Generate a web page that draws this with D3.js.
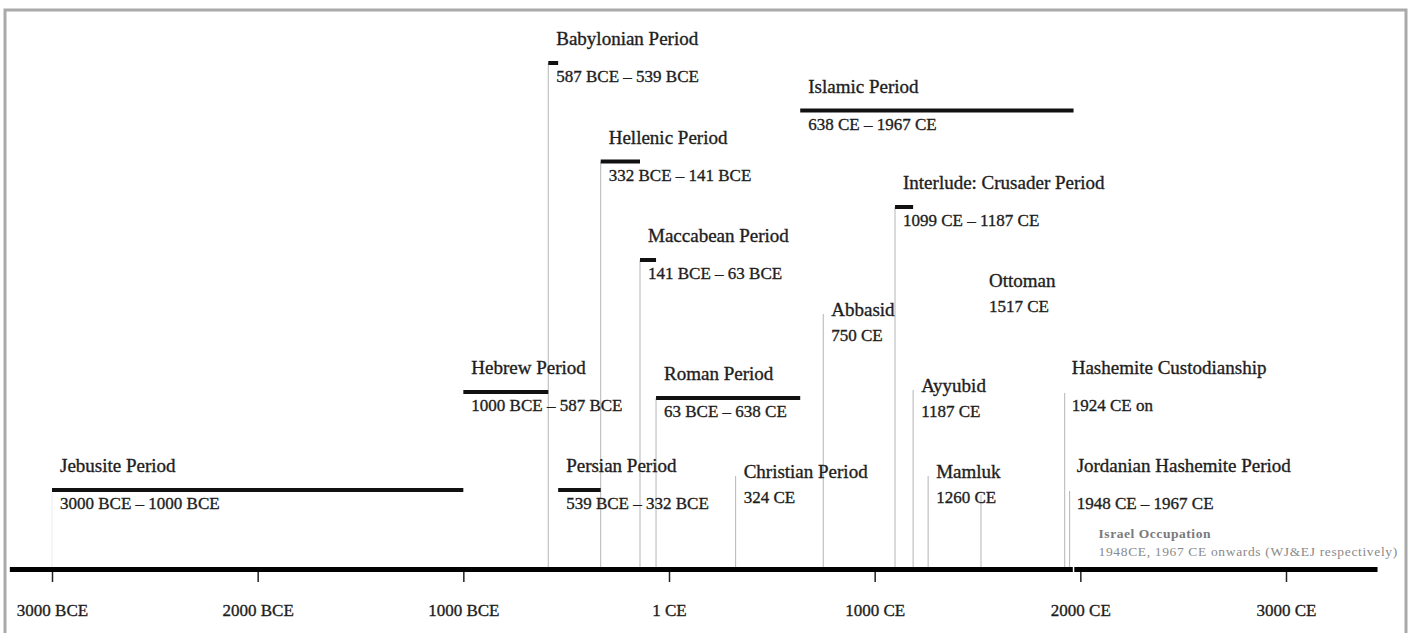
<!DOCTYPE html>
<html>
<head>
<meta charset="utf-8">
<script src="https://cdn.jsdelivr.net/npm/d3@7"></script>
<style>
  body { margin: 0; background: #fff; }
  text { font-family: "Liberation Serif", "Times New Roman", serif; fill: #1e1e1e; }
  .name, .range, .tick text { stroke: #1e1e1e; stroke-width: 0.35px; }
  .name { font-size: 19px; }
  .range { font-size: 17px; }
  .tick text { font-size: 17px; fill: #1e1e1e; }
  .note-title { font-size: 13.5px; font-weight: bold; fill: #7a7a7a; letter-spacing: 0.55px; }
  .note-text { font-size: 13.5px; fill: #8a8a8a; letter-spacing: 0.65px; }
</style>
</head>
<body>
<div class="svg-container"></div>
<script>
var width = 1412;
var height = 633;

// periods drawn with a bar (years: negative = BCE)
var periodNames = ["Jebusite Period", "Hebrew Period", "Babylonian Period", "Persian Period",
                   "Hellenic Period", "Maccabean Period", "Roman Period", "Islamic Period",
                   "Interlude: Crusader Period"];
var periodStarts = [-3000, -1000, -587, -539, -332, -141, -63, 638, 1099];
var periodEnds   = [-1000, -587, -539, -332, -141, -63, 638, 1967, 1187];
var periodLabels = ["3000 BCE \u2013 1000 BCE", "1000 BCE \u2013 587 BCE", "587 BCE \u2013 539 BCE",
                    "539 BCE \u2013 332 BCE", "332 BCE \u2013 141 BCE", "141 BCE \u2013 63 BCE",
                    "63 BCE \u2013 638 CE", "638 CE \u2013 1967 CE", "1099 CE \u2013 1187 CE"];
var periodLanes  = [10, 7, 0, 10, 2, 4, 8, 1, 3];
var droppedPeriods = ["Babylonian Period", "Hellenic Period", "Maccabean Period",
                      "Roman Period", "Interlude: Crusader Period"];

// open-ended eras (no bar)
var eraNames  = ["Hashemite Custodianship", "Jordanian Hashemite Period"];
var eraYears  = [1924, 1948];
var eraLabels = ["1924 CE on", "1948 CE \u2013 1967 CE"];
var eraLanes  = [7, 10];

// single-year events
var eventNames  = ["Christian Period", "Abbasid", "Ayyubid", "Mamluk", "Ottoman"];
var eventYears  = [324, 750, 1187, 1260, 1517];
var eventLabels = ["324 CE", "750 CE", "1187 CE", "1260 CE", "1517 CE"];
var eventLanes  = [9, 6, 7, 9, 5];
var eventLineLanes = [9, 6, 7, 9, 11];

// note on the right
var noteYear  = 1967;
var noteTitle = "Israel Occupation";
var noteText  = "1948CE, 1967 CE onwards (WJ&EJ respectively)";

// axis
var tickYears  = [-3000, -2000, -1000, 0, 1000, 2000, 3000];
var tickLabels = ["3000 BCE", "2000 BCE", "1000 BCE", "1 CE", "1000 CE", "2000 CE", "3000 CE"];
var axisSpan   = [-3205, 3445];

// layout: y position of each lane
var laneY = [63, 110.5, 161.5, 207, 260, 287, 316, 392, 398, 478, 490, 497];
var axisY = 569.5;

var svg = d3.select(".svg-container")
            .append("svg")
            .attr("width", width)
            .attr("height", height);

// frame
svg.append("rect")
   .attr("x", 5).attr("y", 10)
   .attr("width", 1401).attr("height", 700)
   .attr("fill", "none")
   .attr("stroke", "#aaa")
   .attr("stroke-width", 3);

var scaleX = d3.scaleLinear()
               .domain([-3000, 3000])
               .range([52, 1286]);

var lane = function(i) { return laneY[i]; };

var periods = periodNames.map(function(n, i) {
  return { name: n, start: periodStarts[i], end: periodEnds[i], label: periodLabels[i], lane: periodLanes[i] };
});
var eras = eraNames.map(function(n, i) {
  return { name: n, year: eraYears[i], label: eraLabels[i], lane: eraLanes[i] };
});
var events = eventNames.map(function(n, i) {
  return { name: n, year: eventYears[i], label: eventLabels[i], lane: eventLanes[i], lineLane: eventLineLanes[i] };
});

var drops = svg.append("g").attr("class", "drops");

// drop lines
drops.selectAll(".pdrop")
     .data(periods.filter(function(d) { return droppedPeriods.indexOf(d.name) >= 0; }))
     .enter().append("line")
     .attr("x1", function(d) { return scaleX(d.start); })
     .attr("x2", function(d) { return scaleX(d.start); })
     .attr("y1", function(d) { return lane(d.lane); })
     .attr("y2", axisY)
     .attr("stroke", "#b5b5b5")
     .attr("stroke-width", 1);

// faint line under the first period
drops.append("line")
     .attr("x1", scaleX(periods[0].start)).attr("x2", scaleX(periods[0].start))
     .attr("y1", lane(periods[0].lane)).attr("y2", axisY)
     .attr("stroke", "#ececec")
     .attr("stroke-width", 1);

drops.selectAll(".edrop")
     .data(eras)
     .enter().append("line")
     .attr("x1", function(d) { return scaleX(d.year); })
     .attr("x2", function(d) { return scaleX(d.year); })
     .attr("y1", function(d) { return lane(d.lane) + 1; })
     .attr("y2", axisY)
     .attr("stroke", "#b5b5b5")
     .attr("stroke-width", 1);

drops.selectAll(".vdrop")
     .data(events)
     .enter().append("line")
     .attr("x1", function(d) { return scaleX(d.year); })
     .attr("x2", function(d) { return scaleX(d.year); })
     .attr("y1", function(d) { return lane(d.lineLane) - 2; })
     .attr("y2", axisY)
     .attr("stroke", "#b5b5b5")
     .attr("stroke-width", 1);

// period bars and labels
var pg = svg.append("g").selectAll("g")
            .data(periods)
            .enter().append("g");

pg.append("line")
  .attr("x1", function(d) { return scaleX(d.start); })
  .attr("x2", function(d) { return scaleX(d.end); })
  .attr("y1", function(d) { return lane(d.lane); })
  .attr("y2", function(d) { return lane(d.lane); })
  .attr("stroke", "#111")
  .attr("stroke-width", 4);

pg.append("text")
  .attr("class", "name")
  .attr("x", function(d) { return scaleX(d.start) + 8; })
  .attr("y", function(d) { return lane(d.lane) - 18; })
  .text(function(d) { return d.name; });

pg.append("text")
  .attr("class", "range")
  .attr("x", function(d) { return scaleX(d.start) + 8; })
  .attr("y", function(d) { return lane(d.lane) + 19; })
  .text(function(d) { return d.label; });

// eras
var eg = svg.append("g").selectAll("g")
            .data(eras)
            .enter().append("g");

eg.append("text")
  .attr("class", "name")
  .attr("x", function(d) { return scaleX(d.year) + 7; })
  .attr("y", function(d) { return lane(d.lane) - 18; })
  .text(function(d) { return d.name; });

eg.append("text")
  .attr("class", "range")
  .attr("x", function(d) { return scaleX(d.year) + 7; })
  .attr("y", function(d) { return lane(d.lane) + 19; })
  .text(function(d) { return d.label; });

// events
var vg = svg.append("g").selectAll("g")
            .data(events)
            .enter().append("g");

vg.append("text")
  .attr("class", "name")
  .attr("x", function(d) { return scaleX(d.year) + 8; })
  .attr("y", function(d) { return lane(d.lane); })
  .text(function(d) { return d.name; });

vg.append("text")
  .attr("class", "range")
  .attr("x", function(d) { return scaleX(d.year) + 8; })
  .attr("y", function(d) { return lane(d.lane) + 25; })
  .text(function(d) { return d.label; });

// axis line
svg.append("line")
   .attr("x1", scaleX(axisSpan[0]))
   .attr("x2", scaleX(axisSpan[1]))
   .attr("y1", axisY).attr("y2", axisY)
   .attr("stroke", "#000")
   .attr("stroke-width", 5);

// small white break on the axis at the note year
svg.append("line")
   .attr("x1", scaleX(noteYear)).attr("x2", scaleX(noteYear))
   .attr("y1", axisY - 4).attr("y2", axisY + 4)
   .attr("stroke", "#fff")
   .attr("stroke-width", 1.5);

var xAxis = d3.axisBottom(scaleX)
              .tickValues(tickYears)
              .tickFormat(function(d, i) { return tickLabels[i]; })
              .tickSize(10)
              .tickPadding(22);

var ax = svg.append("g")
            .attr("transform", "translate(0," + (axisY + 2.5) + ")")
            .call(xAxis);
ax.select(".domain").remove();
ax.selectAll(".tick line").attr("stroke", "#222").attr("stroke-width", 1.5);
ax.selectAll(".tick text").attr("font-family", null).attr("font-size", null);

// note
svg.append("text")
   .attr("class", "note-title")
   .attr("x", scaleX(noteYear) + 25)
   .attr("y", 538)
   .text(noteTitle);

svg.append("text")
   .attr("class", "note-text")
   .attr("x", scaleX(noteYear) + 25)
   .attr("y", 556)
   .text(noteText);
</script>
</body>
</html>
